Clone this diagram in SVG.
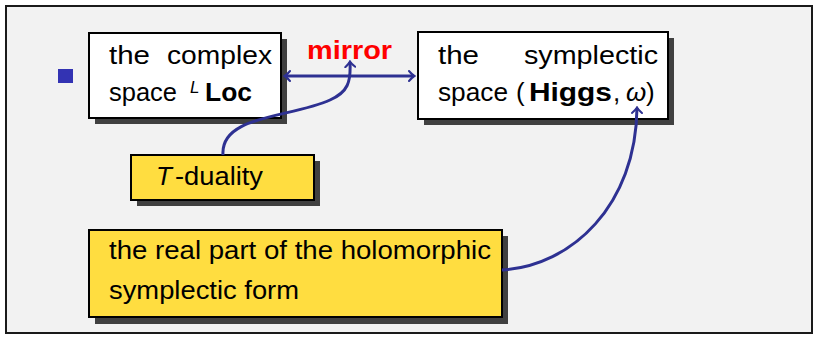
<svg xmlns="http://www.w3.org/2000/svg" width="814" height="337" viewBox="0 0 814 337">
<defs>
<style>
text{font-family:"Liberation Sans","DejaVu Sans",sans-serif;font-size:26px;fill:#000}
.b{font-weight:bold}
.i{font-style:italic}
.sup{font-size:17px}
.box{stroke:#000;stroke-width:2}
.white{fill:#fff}
.yellow{fill:#ffdd40}
.shadow{fill:#404040}
.conn{fill:none;stroke:#2e3192;stroke-width:3}
</style>
<marker id="ah" viewBox="-6 -6 8 12" markerWidth="8" markerHeight="12" refX="0" refY="0" orient="auto-start-reverse" markerUnits="userSpaceOnUse">
<path d="M-5,-5 Q-1.5,-1 0.5,0 Q-1.5,1 -5,5" fill="none" stroke="#2e3192" stroke-width="2" stroke-linecap="round"/>
</marker>
</defs>
<rect x="6" y="6" width="806" height="327" fill="#f2f2f2" stroke="#1a1a1a" stroke-width="2"/>
<rect x="58" y="69" width="15" height="14" fill="#3333b3"/>

<g id="node-loc">
<rect class="shadow" x="95" y="39" width="192" height="85"/>
<rect class="box white" x="89" y="33" width="192" height="85"/>
<text x="109" y="64" textLength="41" lengthAdjust="spacingAndGlyphs">the</text>
<text x="167" y="64" textLength="105" lengthAdjust="spacingAndGlyphs">complex</text>
<text x="109" y="101" textLength="68" lengthAdjust="spacingAndGlyphs">space</text>
<text x="190" y="93" class="i sup">L</text>
<text x="205" y="101" class="b" textLength="47" lengthAdjust="spacingAndGlyphs">Loc</text>
</g>

<g id="node-higgs">
<rect class="shadow" x="424" y="38" width="250" height="87"/>
<rect class="box white" x="418" y="32" width="250" height="87"/>
<text x="438" y="64" textLength="41" lengthAdjust="spacingAndGlyphs">the</text>
<text x="524" y="64" textLength="134" lengthAdjust="spacingAndGlyphs">symplectic</text>
<text x="438" y="101" textLength="70" lengthAdjust="spacingAndGlyphs">space</text>
<text x="516" y="101">(</text>
<text x="529" y="101" class="b" textLength="83" lengthAdjust="spacingAndGlyphs">Higgs</text>
<text x="613" y="101">,</text>
<text x="626" y="101" class="i">ω</text>
<text x="646" y="101">)</text>
</g>

<g id="label-mirror">
<text x="307" y="59" class="b" style="fill:#ff0000" textLength="85" lengthAdjust="spacingAndGlyphs">mirror</text>
</g>

<g id="node-tduality">
<rect class="shadow" x="137" y="161" width="183" height="45"/>
<rect class="box yellow" x="131" y="155" width="183" height="45"/>
<text x="156" y="185" class="i">T</text>
<text x="175" y="185" textLength="88" lengthAdjust="spacingAndGlyphs">-duality</text>
</g>

<g id="node-realpart">
<rect class="shadow" x="95" y="236" width="413" height="88"/>
<rect class="box yellow" x="89" y="230" width="413" height="87"/>
<text x="109" y="259" textLength="382" lengthAdjust="spacingAndGlyphs">the real part of the holomorphic</text>
<text x="109" y="299" textLength="190" lengthAdjust="spacingAndGlyphs">symplectic form</text>
</g>

<g id="connectors">
<line class="conn" x1="285" y1="76" x2="414" y2="76" marker-start="url(#ah)" marker-end="url(#ah)"/>
<path class="conn" d="M223,155 C220,115 290,118 330,100 C348,92 351,82 350,62" marker-end="url(#ah)"/>
<path class="conn" d="M502,270 C572,266 636,205 637,108" marker-end="url(#ah)"/>
</g>
</svg>
